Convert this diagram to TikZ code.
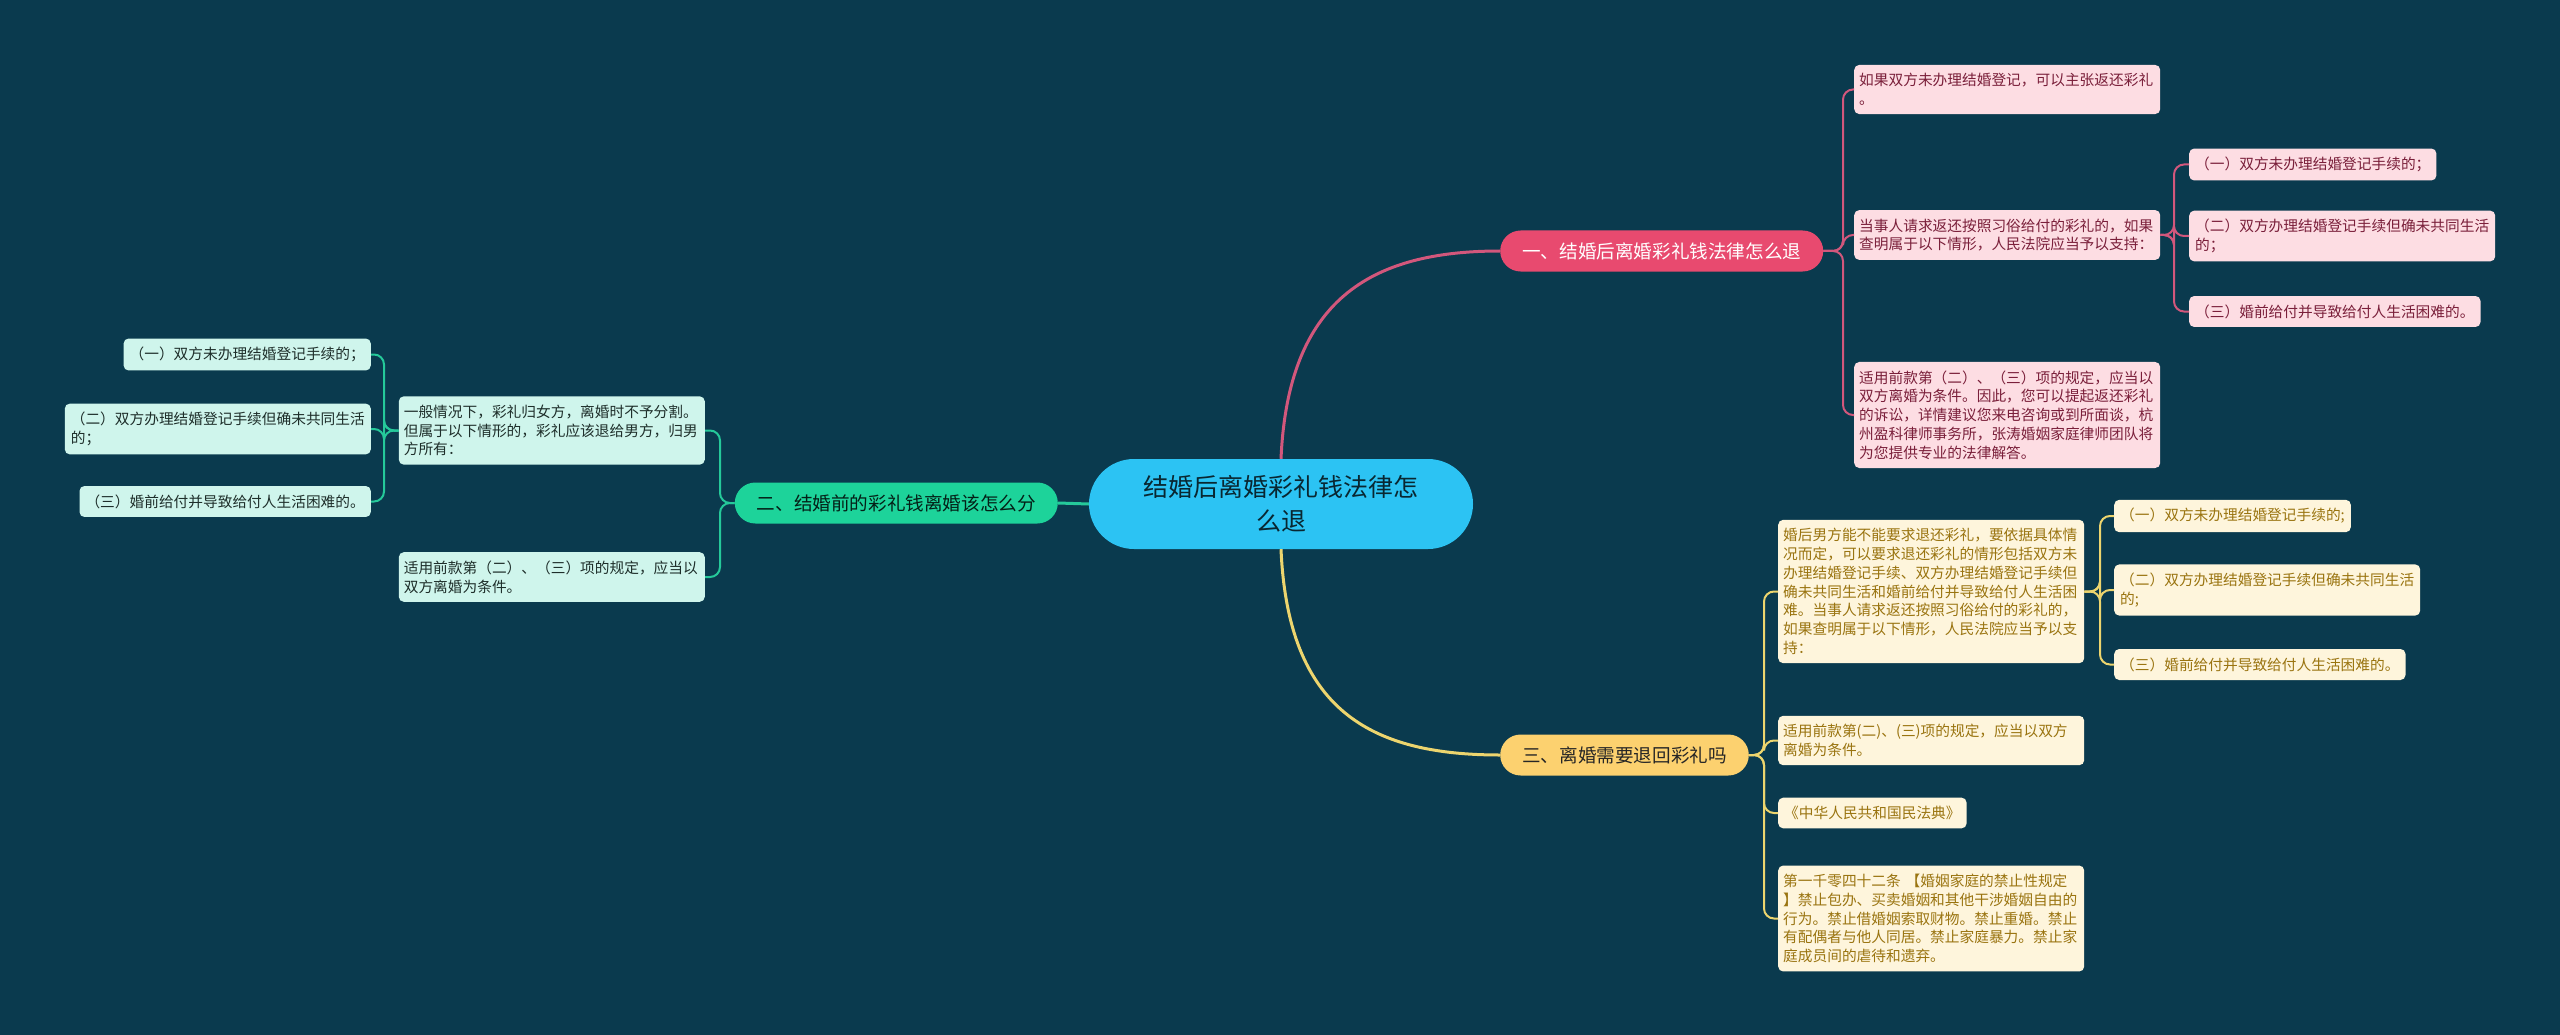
\documentclass[tikz,border=0pt]{standalone}
\usepackage{fontspec}
\setmainfont{Noto Sans CJK SC}
\usetikzlibrary{positioning}
\definecolor{bgc}{HTML}{0A3A4E}
\definecolor{rootc}{HTML}{2CC3F3}
\definecolor{redc}{HTML}{E84A6F}
\definecolor{greenc}{HTML}{1DD39A}
\definecolor{yellowc}{HTML}{FCD16F}
\definecolor{pinkbg}{HTML}{FDDDE3}
\definecolor{pinktx}{HTML}{7A1F3A}
\definecolor{pinkln}{HTML}{D2577C}
\definecolor{mintbg}{HTML}{CFF5EC}
\definecolor{minttx}{HTML}{1E2E2A}
\definecolor{mintln}{HTML}{25C99A}
\definecolor{creambg}{HTML}{FEF5DC}
\definecolor{creamtx}{HTML}{9A7410}
\definecolor{creamln}{HTML}{EDD56E}
\tikzset{
  rootbox/.style={fill=rootc, text=black!80!rootc, rounded corners=45pt, align=center, minimum width=384pt, minimum height=90pt, font=\fontsize{25}{34}\selectfont},
  pill/.style={rounded corners=20.5pt, minimum height=41pt, inner xsep=22pt, font=\fontsize{18.6}{22}\selectfont},
  leaf/.style={rounded corners=5pt, align=left, inner xsep=6pt, inner ysep=8.5pt, font=\fontsize{14.7}{18.8}\selectfont},
  wideleaf/.style={leaf, text width=296pt, inner xsep=5pt},
  pinkleaf/.style={fill=pinkbg, text=pinktx},
  mintleaf/.style={fill=mintbg, text=minttx},
  creamleaf/.style={fill=creambg, text=creamtx},
  mainline/.style={line width=3pt},
  pinkline/.style={draw=pinkln, line width=2pt, rounded corners=10pt},
  mintline/.style={draw=mintln, line width=2pt, rounded corners=10pt},
  creamline/.style={draw=creamln, line width=2pt, rounded corners=10pt}
}
\begin{document}
\begin{tikzpicture}[x=1pt, y=-1pt]
\fill[bgc] (0,0) rectangle (2560,1035);
% centre and the three branches
\node[rootbox] (root) at (1281,504) {结婚后离婚彩礼钱法律怎\\么退};
\node[pill, fill=redc, text=white, anchor=west] (b1) at (1500,251) {一、结婚后离婚彩礼钱法律怎么退};
\node[pill, fill=greenc, text=black!85!greenc, anchor=east] (b2) at (1058,503) {二、结婚前的彩礼钱离婚该怎么分};
\node[pill, fill=yellowc, text=black!85, anchor=west] (b3) at (1500,755) {三、离婚需要退回彩礼吗};
\draw[mainline, pinkln] (root.north) .. controls (1288,300) and (1370,251) .. (b1.west);
\draw[mainline, mintln] (root.west) -- (b2.east);
\draw[mainline, creamln] (root.south) .. controls (1288,710) and (1370,755) .. (b3.west);
% branch one
\node[wideleaf, pinkleaf, anchor=west] (c1a) at (1854,89.5) {如果双方未办理结婚登记，可以主张返还彩礼\\。};
\node[wideleaf, pinkleaf, anchor=west] (c1b) at (1854,235) {当事人请求返还按照习俗给付的彩礼的，如果\\查明属于以下情形，人民法院应当予以支持：};
\node[wideleaf, pinkleaf, anchor=west] (c1c) at (1854,415) {适用前款第（二）、（三）项的规定，应当以\\双方离婚为条件。因此，您可以提起返还彩礼\\的诉讼，详情建议您来电咨询或到所面谈，杭\\州盈科律师事务所，张涛婚姻家庭律师团队将\\为您提供专业的法律解答。};
\node[leaf, pinkleaf, anchor=west] (k1a) at (2189,164.5) {（一）双方未办理结婚登记手续的；};
\node[leaf, pinkleaf, anchor=west] (k1b) at (2189,236) {（二）双方办理结婚登记手续但确未共同生活\\的；};
\node[leaf, pinkleaf, anchor=west] (k1c) at (2189,311.5) {（三）婚前给付并导致给付人生活困难的。};
\coordinate (s1) at (1843,251);
\coordinate (s1b) at (2174,235);
\foreach \n in {c1a,c1b,c1c} \draw[pinkline] (b1.east) -- (s1) |- (\n.west);
\foreach \n in {k1a,k1b,k1c} \draw[pinkline] (c1b.east) -- (s1b) |- (\n.west);
% branch two
\node[wideleaf, mintleaf, anchor=east] (c2a) at (705,430.5) {一般情况下，彩礼归女方，离婚时不予分割。\\但属于以下情形的，彩礼应该退给男方，归男\\方所有：};
\node[wideleaf, mintleaf, anchor=east] (c2b) at (705,577) {适用前款第（二）、（三）项的规定，应当以\\双方离婚为条件。};
\node[leaf, mintleaf, anchor=east] (k2a) at (371,354.5) {（一）双方未办理结婚登记手续的；};
\node[leaf, mintleaf, anchor=east] (k2b) at (371,429) {（二）双方办理结婚登记手续但确未共同生活\\的；};
\node[leaf, mintleaf, anchor=east] (k2c) at (371,501.5) {（三）婚前给付并导致给付人生活困难的。};
\coordinate (s2) at (720,503);
\coordinate (s2a) at (384,430.5);
\foreach \n in {c2a,c2b} \draw[mintline] (b2.west) -- (s2) |- (\n.east);
\foreach \n in {k2a,k2b,k2c} \draw[mintline] (c2a.west) -- (s2a) |- (\n.east);
% branch three
\node[wideleaf, creamleaf, anchor=west] (c3a) at (1778,591.5) {婚后男方能不能要求退还彩礼，要依据具体情\\况而定，可以要求退还彩礼的情形包括双方未\\办理结婚登记手续、双方办理结婚登记手续但\\确未共同生活和婚前给付并导致给付人生活困\\难。当事人请求返还按照习俗给付的彩礼的，\\如果查明属于以下情形，人民法院应当予以支\\持：};
\node[wideleaf, creamleaf, anchor=west] (c3b) at (1778,740.5) {适用前款第(二)、(三)项的规定，应当以双方\\离婚为条件。};
\node[leaf, creamleaf, anchor=west] (c3c) at (1778,813) {《中华人民共和国民法典》};
\node[wideleaf, creamleaf, anchor=west] (c3d) at (1778,918.5) {第一千零四十二条 【婚姻家庭的禁止性规定\\】禁止包办、买卖婚姻和其他干涉婚姻自由的\\行为。禁止借婚姻索取财物。禁止重婚。禁止\\有配偶者与他人同居。禁止家庭暴力。禁止家\\庭成员间的虐待和遗弃。};
\node[leaf, creamleaf, anchor=west] (k3a) at (2114,516) {（一）双方未办理结婚登记手续的;};
\node[leaf, creamleaf, anchor=west] (k3b) at (2114,590) {（二）双方办理结婚登记手续但确未共同生活\\的;};
\node[leaf, creamleaf, anchor=west] (k3c) at (2114,664.5) {（三）婚前给付并导致给付人生活困难的。};
\coordinate (s3) at (1764,755);
\coordinate (s3a) at (2100,591.5);
\foreach \n in {c3a,c3b,c3c,c3d} \draw[creamline] (b3.east) -- (s3) |- (\n.west);
\foreach \n in {k3a,k3b,k3c} \draw[creamline] (c3a.east) -- (s3a) |- (\n.west);
\end{tikzpicture}
\end{document}
